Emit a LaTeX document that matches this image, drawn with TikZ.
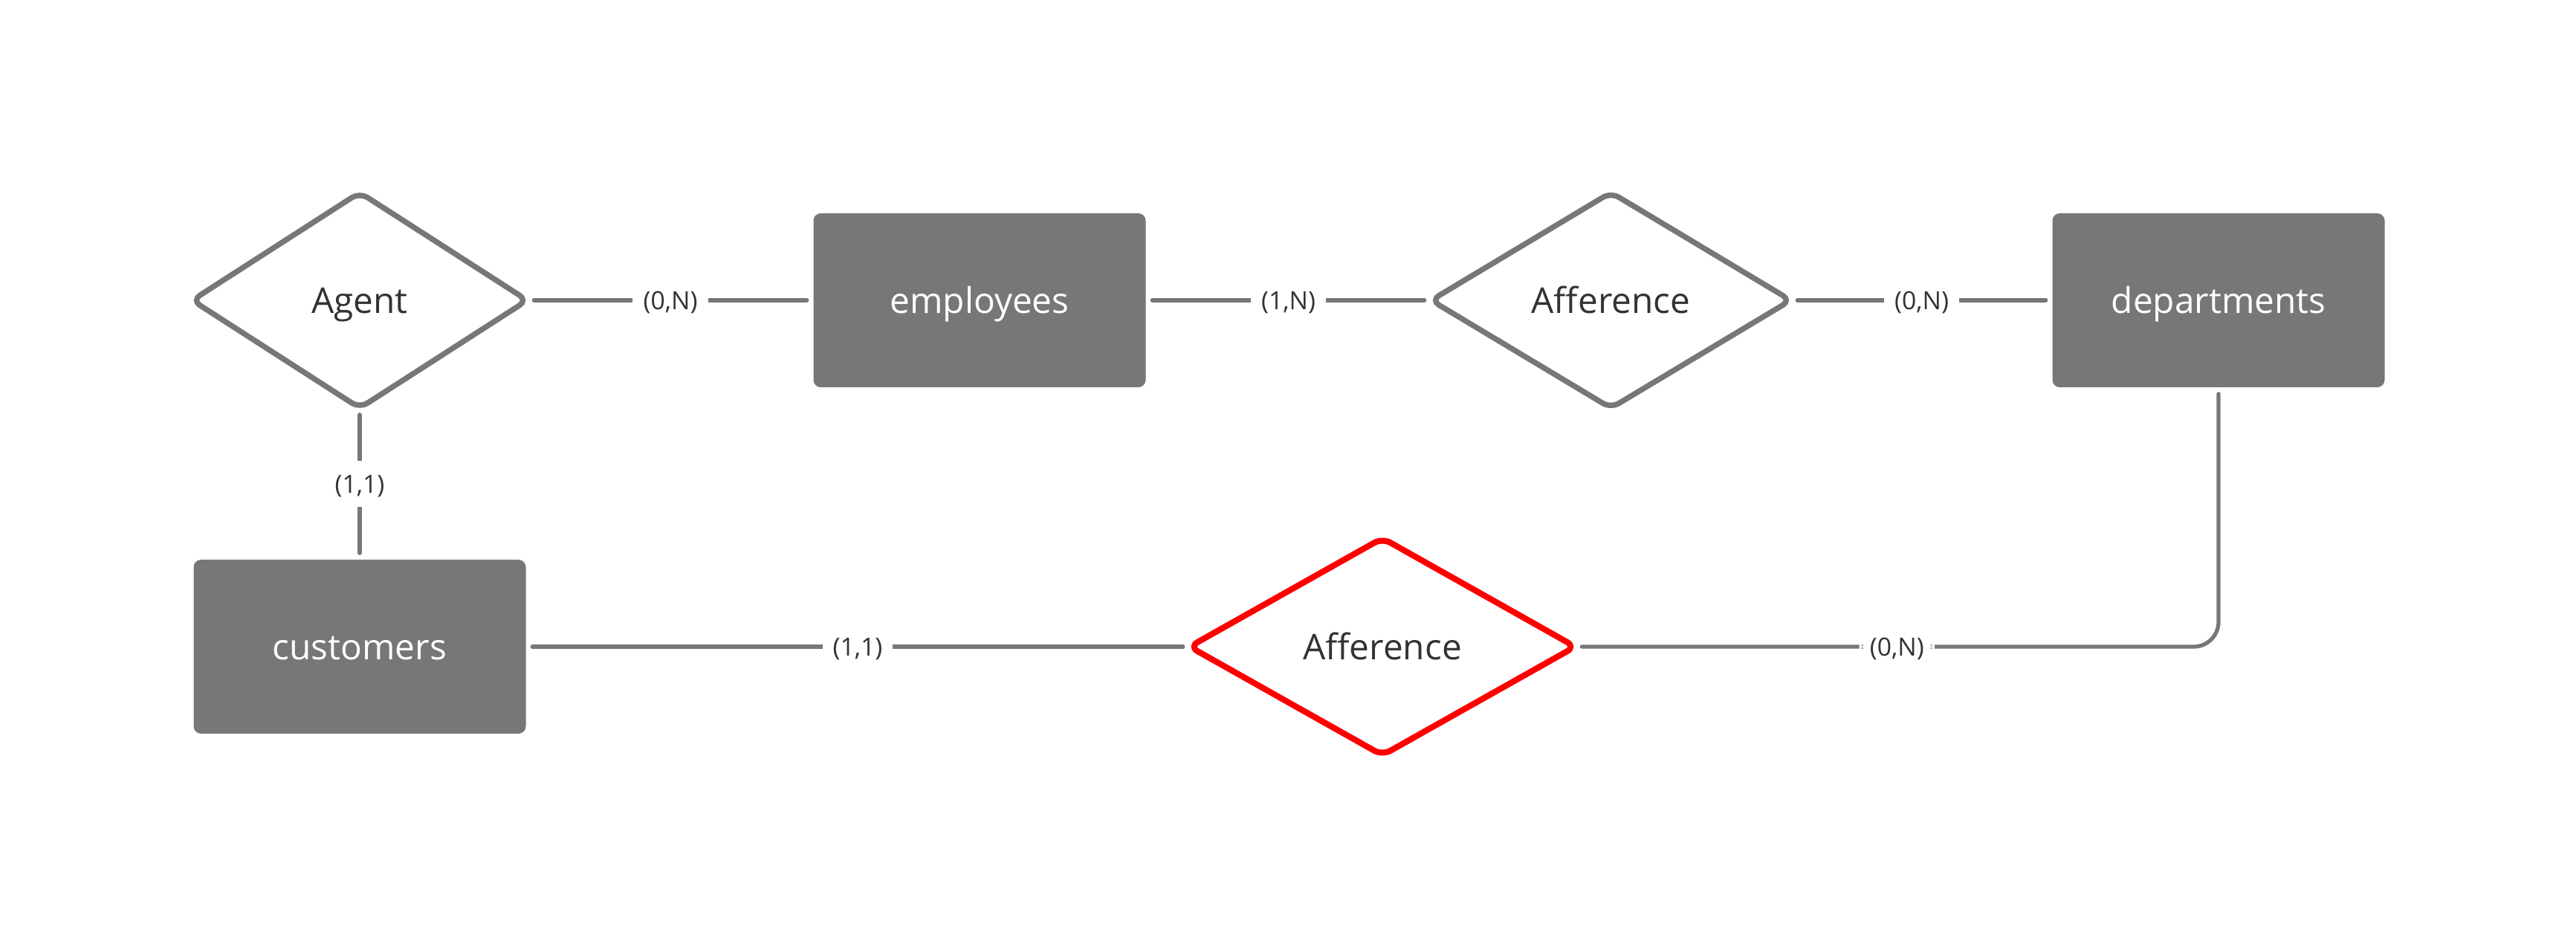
\documentclass[tikz,border=0pt]{standalone}
\usepackage{fontspec}
\setmainfont{Open Sans}
\usepackage{xcolor}
\usepackage{tikz}
\usetikzlibrary{positioning,shapes.geometric}

\definecolor{boxgray}{HTML}{777777}
\definecolor{txtgray}{HTML}{333333}
\definecolor{relred}{HTML}{FF0000}

\begin{document}
\begin{tikzpicture}[
  entitynode/.style={rectangle, fill=boxgray, text=white, rounded corners=2.8pt,
            minimum width=4.47cm, minimum height=2.34cm, outer sep=0pt,
            text height=9.7pt, text depth=0pt,
            font=\fontsize{13.6}{16}\selectfont},
  relnode/.style={diamond, draw=boxgray, fill=white, line width=2.1pt, rounded corners=3.5pt,
            inner sep=0pt, outer sep=0pt, text=txtgray,
            text height=9.7pt, text depth=0pt,
            font=\fontsize{13.6}{16}\selectfont},
  card/.style={fill=white, text=txtgray, inner xsep=4pt, inner ysep=1.5pt,
            text height=6.9pt, text depth=0pt,
            font=\fontsize{9.6}{11}\selectfont},
  link/.style={draw=boxgray, line width=1.5pt, line cap=round,
            shorten <=2.5pt, shorten >=2.5pt}   % plain connectors, no arrow tips
]
  \useasboundingbox (0,0) rectangle (34.66,-12.74);

  \node[relnode, minimum width=4.51cm, minimum height=2.9cm] (Agent) at (4.84,-4.04) {Agent};
  \node[entitynode] (employees) [right=3.85cm of Agent] {employees};
  \node[relnode, minimum width=4.84cm, minimum height=2.9cm] (Afference1) [right=3.84cm of employees] {Afference};
  \node[entitynode] (departments) [right=3.52cm of Afference1] {departments};

  \node[entitynode] (customers) [below=2.04cm of Agent] {customers};
  \node[relnode, draw=relred, line width=2.3pt, minimum width=5.19cm, minimum height=2.92cm]
       (Afference2) [right=8.93cm of customers] {Afference};

  % top row
  \draw[link] (Agent) -- node[card] {(0,N)} (employees);
  \draw[link] (employees) -- node[card] {(1,N)} (Afference1);
  \draw[link] (Afference1) -- node[card] {(0,N)} (departments);

  % left column
  \draw[link] (Agent) -- node[card, inner ysep=5.5pt] {(1,1)} (customers);

  % bottom row
  \draw[link] (customers) -- node[card] {(1,1)} (Afference2);
  \draw[link, rounded corners=9.5pt] (Afference2) -| node[card, pos=0.25] {(0,N)} (departments);

\end{tikzpicture}
\end{document}
